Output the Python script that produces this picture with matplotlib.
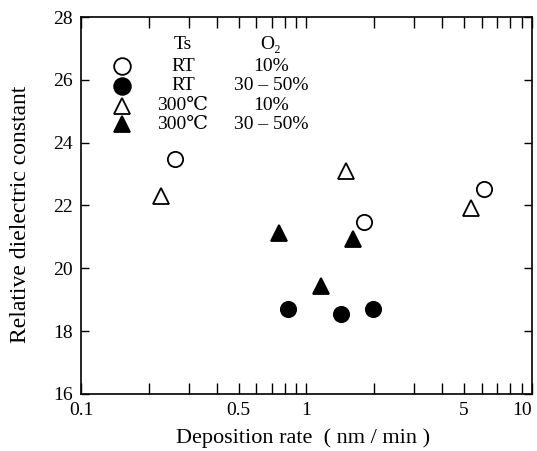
import numpy as np
import matplotlib
matplotlib.use("Agg")
import matplotlib.pyplot as plt
from matplotlib.ticker import FixedLocator, NullFormatter

plt.rcParams['font.family'] = ['Liberation Serif', 'DejaVu Serif', 'DejaVu Sans']
plt.rcParams['mathtext.fontset'] = 'stix'

# data
rt_10_x = [0.261, 1.79, 6.12]
rt_10_y = [23.49, 21.48, 22.51]
rt_30_x = [0.83, 1.42, 1.98]
rt_30_y = [18.70, 18.54, 18.70]
t300_10_x = [0.226, 1.50, 5.35]
t300_10_y = [22.31, 23.09, 21.91]
t300_30_x = [0.755, 1.156, 1.61]
t300_30_y = [21.11, 19.44, 20.92]

ts_labels = ['RT', 'RT', '300℃', '300℃']
o2_labels = ['10%', '30 – 50%', '10%', '30 – 50%']
xtick_vals = [0.1, 0.5, 1, 5, 10]
xtick_labels = ['0.1', '0.5', '1', '5', '10']
ytick_vals = [16, 18, 20, 22, 24, 26, 28]

fig = plt.figure(figsize=(5.37, 4.51), dpi=100)
ax = fig.add_axes([0.1508, 0.1264, 0.8399, 0.8359])

styles = [
    dict(marker='o', mfc='white', mec='black'),
    dict(marker='o', mfc='black', mec='black'),
    dict(marker='^', mfc='white', mec='black'),
    dict(marker='^', mfc='black', mec='black'),
]
series = [(rt_10_x, rt_10_y), (rt_30_x, rt_30_y),
          (t300_10_x, t300_10_y), (t300_30_x, t300_30_y)]

for (xs, ys), st in zip(series, styles):
    ax.plot(xs, ys, ls='none', ms=11, mew=1.3, **st)

ax.set_xscale('log')
ax.set_xlim(0.1, 10)
ax.set_ylim(16, 28)
ax.xaxis.set_major_locator(FixedLocator(xtick_vals))
ax.set_xticklabels(xtick_labels)
ax.get_xticklabels()[-1].set_horizontalalignment('right')
minor = [v * d for d in (0.1, 1) for v in range(2, 10) if v != 5]
ax.xaxis.set_minor_locator(FixedLocator(minor))
ax.xaxis.set_minor_formatter(NullFormatter())
ax.set_yticks(ytick_vals)

ax.tick_params(axis='x', which='both', direction='in', top=True, length=8, width=1,
               labelsize=14, pad=6)
ax.tick_params(axis='y', which='both', direction='in', right=True, length=6, width=1,
               labelsize=14, pad=6)
for s in ax.spines.values():
    s.set_linewidth(1.2)

fig.text(21 / 537, 1 - 214 / 451, 'Relative dielectric constant', rotation=90,
         fontsize=17, ha='center', va='center')
fig.text(0.564, 0.006, 'Deposition rate  ( nm / min )', fontsize=16, ha='center', va='bottom')

# legend as a little table
rows_y = [0.926, 0.870, 0.817, 0.764, 0.716]
ax.text(0.226, rows_y[0], 'Ts', transform=ax.transAxes, ha='center', va='center', fontsize=14)
ax.text(0.421, rows_y[0], 'O₂', transform=ax.transAxes, ha='center', va='center', fontsize=14)
for i, st in enumerate(styles):
    ax.plot([0.091], [rows_y[i + 1]], transform=ax.transAxes, ls='none', ms=12, mew=1.3,
            clip_on=False, **st)
    ax.text(0.226, rows_y[i + 1], ts_labels[i], transform=ax.transAxes,
            ha='center', va='center', fontsize=14)
    ax.text(0.421, rows_y[i + 1], o2_labels[i], transform=ax.transAxes,
            ha='center', va='center', fontsize=14)

fig.savefig('out.png', dpi=100)
